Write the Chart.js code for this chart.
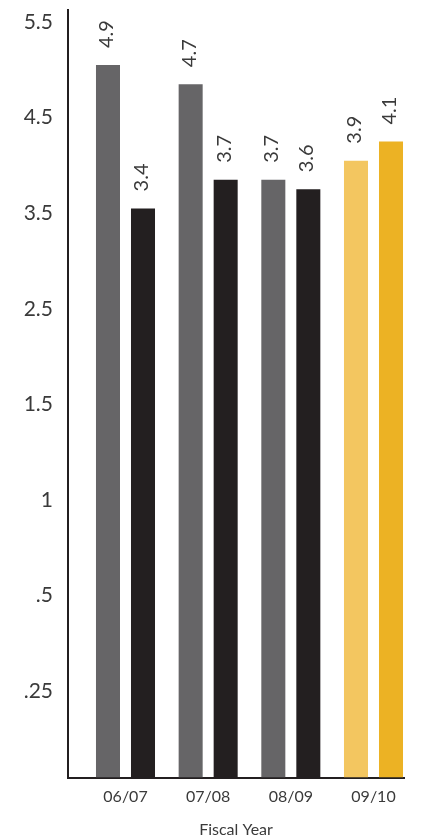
<!DOCTYPE html>
<html>
<head>
<meta charset="utf-8">
<script src="https://cdn.jsdelivr.net/npm/chart.js@4/dist/chart.umd.min.js"></script>
<style>
  html, body { margin: 0; padding: 0; background: #fff; }
  #wrap { width: 422px; height: 839px; }
</style>
</head>
<body>
<div id="wrap"><canvas id="rateChart"></canvas></div>
<script>
/* global Chart */

var years = ["06/07", "07/08", "08/09", "09/10"];
var firstBars = [4.9, 4.7, 3.7, 3.9];
var secondBars = [3.4, 3.7, 3.6, 4.1];
var firstColors = ["#666567", "#666567", "#666567", "#f3c660"];
var secondColors = ["#231f20", "#231f20", "#231f20", "#ecb224"];
var yTickLabels = ["5.5", "4.5", "3.5", "2.5", "1.5", "1", ".5", ".25"];

// y range; bars start from the bottom of it
var yMin = -2.555;
var yMax = 5.476;
var yTopTick = 5.35;

var textColor = "#3a3a3a";
var axisColor = "#231f20";

function toPoints(values) {
  return values.map(function (v, i) {
    return { x: i, y: v };
  });
}

// value written sideways above each bar
var valueLabels = {
  id: "valueLabels",
  afterDatasetsDraw: function (chart) {
    var ctx = chart.ctx;
    chart.data.datasets.forEach(function (ds, d) {
      chart.getDatasetMeta(d).data.forEach(function (bar, i) {
        ctx.save();
        ctx.translate(bar.x + 5, bar.y - 17);
        ctx.rotate(-Math.PI / 2);
        ctx.font = "20px Lato";
        ctx.fillStyle = textColor;
        ctx.textAlign = "left";
        ctx.textBaseline = "alphabetic";
        ctx.fillText(ds.data[i].y.toFixed(1), 0, 0);
        ctx.restore();
      });
    });
  },
};

var ctx = document.getElementById("rateChart").getContext("2d");
var rateChart = new Chart(ctx, {
  type: "bar",
  data: {
    datasets: [
      {
        data: toPoints(firstBars),
        backgroundColor: firstColors,
        base: yMin,
        categoryPercentage: 0.847,
        barPercentage: 0.686,
      },
      {
        data: toPoints(secondBars),
        backgroundColor: secondColors,
        base: yMin,
        categoryPercentage: 0.847,
        barPercentage: 0.686,
      },
    ],
  },
  options: {
    responsive: true,
    maintainAspectRatio: false,
    animation: false,
    layout: {
      padding: { top: 10, right: 18, bottom: 0, left: 0 },
    },
    plugins: {
      legend: { display: false },
      tooltip: { enabled: false },
    },
    scales: {
      x: {
        type: "linear",
        offset: false,
        min: -0.6955,
        max: 3.369,
        grid: { display: false, drawTicks: false, offset: false },
        border: { color: axisColor, width: 2 },
        afterBuildTicks: function (scale) {
          scale.ticks = years.map(function (_, i) {
            return { value: i };
          });
        },
        afterFit: function (scale) {
          scale.paddingLeft = 0;
          scale.paddingRight = 0;
        },
        ticks: {
          autoSkip: false,
          maxRotation: 0,
          padding: 10,
          color: textColor,
          font: { family: "Lato", size: 16 },
          callback: function (value) {
            return years[value];
          },
        },
        title: {
          display: true,
          text: "Fiscal Year",
          color: textColor,
          font: { family: "Lato", size: 16 },
          padding: { top: 3, bottom: 0 },
        },
      },
      y: {
        min: yMin,
        max: yMax,
        grid: { display: false, drawTicks: false },
        border: { color: axisColor, width: 2 },
        afterBuildTicks: function (scale) {
          scale.ticks = yTickLabels.map(function (_, i) {
            return { value: yTopTick - i };
          });
        },
        afterFit: function (scale) {
          scale.width = 68;
          scale.paddingTop = 0;
          scale.paddingBottom = 0;
        },
        ticks: {
          padding: 15,
          color: textColor,
          font: { family: "Lato", size: 21 },
          callback: function (value, index) {
            return yTickLabels[index];
          },
        },
      },
    },
  },
  plugins: [valueLabels],
});
</script>
</body>
</html>
